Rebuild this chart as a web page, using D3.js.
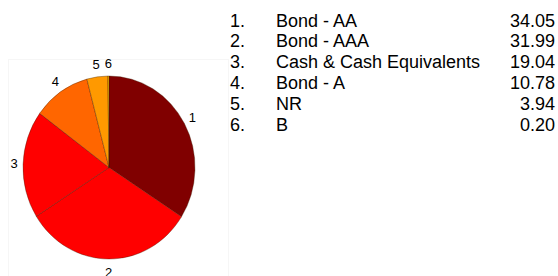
<!DOCTYPE html>
<html>
<head>
<meta charset="utf-8">
<script src="https://cdn.jsdelivr.net/npm/d3@7"></script>
<style>
  html, body { margin: 0; padding: 0; background: #fff; }
  svg { display: block; font-family: "Liberation Sans", Arial, sans-serif; }
</style>
</head>
<body>
<svg id="chart" width="558" height="276"></svg>
<script>
// chart data
const categories = ['Bond - AA', 'Bond - AAA', 'Cash & Cash Equivalents', 'Bond - A', 'NR', 'B'];
const values = [34.05, 31.99, 19.04, 10.78, 3.94, 0.2];
const valueLabels = ['34.05', '31.99', '19.04', '10.78', '3.94', '0.20'];
const colors = ['#800000', '#ff0000', '#ff0000', '#ff6600', '#ff9900', '#ffcc00'];

const svg = d3.select('#chart');
const cx = 109;
const cy = 167.5;
const rx = 86;
const ry = 91.5;

// faint plot frame
svg.append('rect')
  .attr('x', 8.5).attr('y', 59.5)
  .attr('width', 220).attr('height', 230)
  .attr('fill', 'none')
  .attr('stroke', '#f6f6f6');

const pie = d3.pie().sort(null).value((d) => d.value);
const data = pie(values.map((value, index) => ({ value, index })));
const arc = d3.arc().innerRadius(0).outerRadius(rx);

const g = svg.append('g')
  .attr('transform', `translate(${cx},${cy}) scale(1,${ry / rx})`);

g.selectAll('path')
  .data(data)
  .join('path')
  .attr('d', arc)
  .attr('fill', (d) => colors[d.data.index])
  .attr('stroke', '#3a1a00')
  .attr('stroke-width', 0.5)
  .attr('stroke-opacity', 0.7)
  .attr('vector-effect', 'non-scaling-stroke');

// slice numbers
const mid = (d) => (d.startAngle + d.endAngle) / 2;
svg.append('g')
  .selectAll('text')
  .data(data)
  .join('text')
  .attr('x', (d) => cx + (rx + 9) * Math.sin(mid(d)))
  .attr('y', (d) => cy - (ry + 13) * Math.cos(mid(d)))
  .attr('text-anchor', 'middle')
  .attr('dy', '0.35em')
  .attr('font-size', 13)
  .attr('fill', '#000')
  .text((d) => d.data.index + 1);

// legend table
const rowY = d3.scaleLinear().domain([0, 1]).range([26.5, 47.3]);
const legend = svg.append('g').attr('font-size', 18).attr('fill', '#000');
const rows = legend.selectAll('g')
  .data(categories)
  .join('g')
  .attr('transform', (d, i) => `translate(0,${rowY(i)})`);
rows.append('text').attr('x', 230).text((d, i) => `${i + 1}.`);
rows.append('text').attr('x', 276).text((d) => d);
rows.append('text').attr('x', 555).attr('text-anchor', 'end').text((d, i) => valueLabels[i]);
</script>
</body>
</html>
